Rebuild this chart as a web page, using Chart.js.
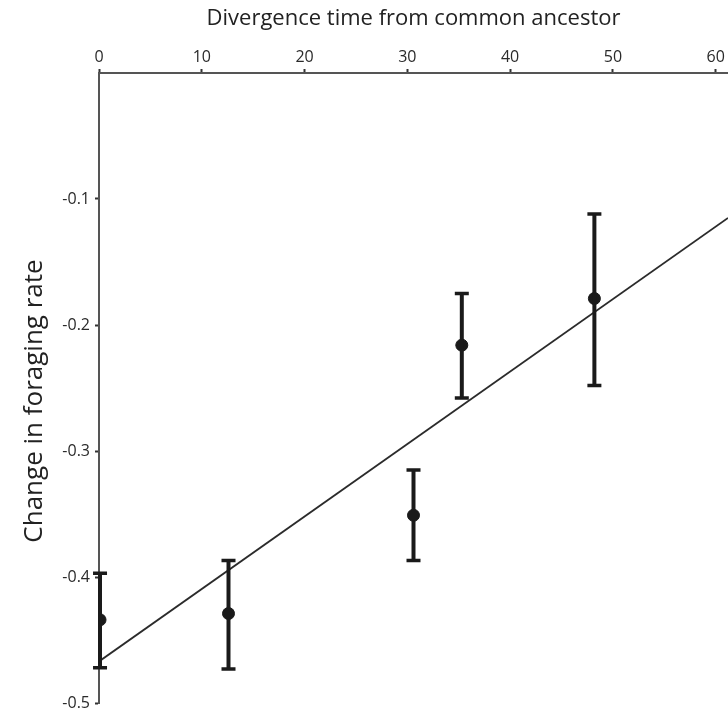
<!DOCTYPE html>
<html>
<head>
<meta charset="utf-8">
<script src="https://cdn.jsdelivr.net/npm/chart.js@4"></script>
<style>
html,body{margin:0;padding:0;background:#fff;}
#wrap{width:728px;height:713px;}
</style>
</head>
<body>
<div id="wrap"><canvas id="c" width="728" height="713"></canvas></div>
<script>
const divergenceTime = [0.1, 12.6, 30.6, 35.3, 48.2];
const foragingChange = [-0.434, -0.429, -0.351, -0.216, -0.179];
const errorTop = [-0.397, -0.387, -0.315, -0.175, -0.112];
const errorBottom = [-0.472, -0.473, -0.387, -0.258, -0.248];
const fitX = [0, 61.2];
const fitY = [-0.467, -0.115];
const xTickValues = [0, 10, 20, 30, 40, 50, 60];
const yTickValues = [-0.1, -0.2, -0.3, -0.4, -0.5];
const xTitle = 'Divergence time from common ancestor';
const yTitle = 'Change in foraging rate';

const fontFamily = '"Open Sans", "Noto Sans", sans-serif';

const errorBarPlugin = {
  id: 'errorBars',
  afterDatasetsDraw(chart) {
    const {ctx, scales: {x, y}} = chart;
    ctx.save();
    ctx.strokeStyle = '#1a1a1a';
    ctx.lineCap = 'butt';
    for (let i = 0; i < divergenceTime.length; i++) {
      const px = x.getPixelForValue(divergenceTime[i]);
      const pt = y.getPixelForValue(errorTop[i]);
      const pb = y.getPixelForValue(errorBottom[i]);
      ctx.lineWidth = 4;
      ctx.beginPath();
      ctx.moveTo(px, pt); ctx.lineTo(px, pb);
      ctx.stroke();
      ctx.lineWidth = 3.5;
      ctx.beginPath();
      ctx.moveTo(px - 7, pt); ctx.lineTo(px + 7, pt);
      ctx.moveTo(px - 7, pb); ctx.lineTo(px + 7, pb);
      ctx.stroke();
    }
    ctx.restore();
  }
};

const yTitlePlugin = {
  id: 'yTitle',
  afterDraw(chart) {
    const {ctx, chartArea} = chart;
    ctx.save();
    ctx.translate(35, (chartArea.top + chartArea.bottom) / 2 + 13);
    ctx.rotate(-Math.PI / 2);
    ctx.font = '26px ' + fontFamily;
    ctx.fillStyle = '#222';
    ctx.textAlign = 'center';
    ctx.textBaseline = 'middle';
    ctx.fillText(yTitle, 0, 0);
    ctx.restore();
  }
};

new Chart(document.getElementById('c'), {
  type: 'scatter',
  data: {
    datasets: [
      {
        type: 'line',
        data: fitX.map((v, i) => ({x: v, y: fitY[i]})),
        borderColor: '#2b2b2b',
        borderWidth: 1.8,
        pointRadius: 0,
        fill: false,
        order: 2
      },
      {
        data: divergenceTime.map((v, i) => ({x: v, y: foragingChange[i]})),
        backgroundColor: '#1a1a1a',
        borderColor: '#1a1a1a',
        pointRadius: 6,
        order: 1
      }
    ]
  },
  plugins: [errorBarPlugin, yTitlePlugin],
  options: {
    responsive: false,
    animation: false,
    layout: {autoPadding: false, padding: {left: 0, right: 0, top: 0, bottom: 10}},
    plugins: {legend: {display: false}, tooltip: {enabled: false}},
    scales: {
      x: {
        type: 'linear',
        position: 'top',
        min: 0,
        max: 61.2,
        afterBuildTicks: (axis) => { axis.ticks = xTickValues.map(v => ({value: v})); },
        afterFit: (axis) => { axis.height = 73; axis.paddingLeft = 0; axis.paddingRight = 0; },
        ticks: {
          includeBounds: false,
          color: '#2a2a2a',
          font: {family: fontFamily, size: 16},
          padding: 2,
          maxRotation: 0
        },
        grid: {drawOnChartArea: false, tickLength: 4, color: '#333', tickWidth: 2},
        border: {display: true, color: '#555', width: 2},
        title: {
          display: true,
          text: xTitle,
          color: '#222',
          font: {family: fontFamily, size: 22},
          padding: {top: 6, bottom: 0}
        }
      },
      y: {
        type: 'linear',
        position: 'left',
        min: -0.5,
        max: 0,
        afterBuildTicks: (axis) => { axis.ticks = yTickValues.map(v => ({value: v})); },
        afterFit: (axis) => { axis.width = 99; axis.paddingTop = 0; axis.paddingBottom = 0; },
        ticks: {
          color: '#2a2a2a',
          font: {family: fontFamily, size: 16},
          padding: 5,
          callback: (v) => String(Math.round(v * 10) / 10)
        },
        grid: {drawOnChartArea: false, tickLength: 4, color: '#333', tickWidth: 2},
        border: {display: true, color: '#555', width: 2},
        title: {display: false, text: yTitle}
      }
    }
  }
});
</script>
</body>
</html>
